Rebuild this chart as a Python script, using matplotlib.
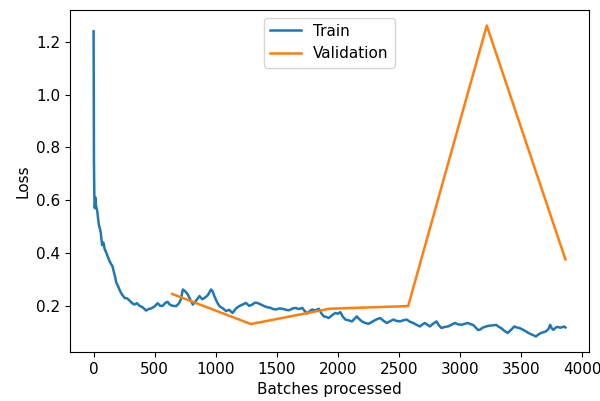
import matplotlib
matplotlib.use("Agg")
import matplotlib.pyplot as plt

plt.rcParams["font.size"] = 11

# train loss (batch, loss)
train_batches = [0, 3, 6, 10, 15, 20, 31, 42, 58, 70, 80, 91, 105, 118, 130, 145, 155, 167, 176, 186,
                 200, 213, 230, 254, 275, 295, 315, 335, 355, 376, 400, 430, 450, 471, 500, 525, 545, 566,
                 590, 607, 623, 647, 677, 700, 715, 731, 750, 772, 790, 813, 840, 867, 890, 908, 935, 962,
                 975, 989, 1010, 1030, 1060, 1085, 1110, 1138, 1166, 1193, 1220, 1248, 1275, 1301, 1320,
                 1342, 1370, 1397, 1420, 1451, 1470, 1492, 1520, 1546, 1575, 1600, 1630, 1655, 1680, 1709,
                 1730, 1749, 1770, 1790, 1815, 1844, 1865, 1885, 1905, 1926, 1955, 1980, 2000, 2021, 2040,
                 2062, 2090, 2116, 2135, 2156, 2175, 2197, 2225, 2252, 2275, 2306, 2325, 2347, 2375, 2401,
                 2430, 2455, 2480, 2510, 2535, 2564, 2590, 2618, 2645, 2673, 2695, 2713, 2735, 2754, 2780,
                 2808, 2830, 2849, 2875, 2903, 2930, 2958, 2985, 3012, 3040, 3066, 3090, 3107, 3121, 3147,
                 3161, 3190, 3215, 3243, 3270, 3297, 3320, 3337, 3365, 3392, 3420, 3446, 3465, 3487, 3515,
                 3541, 3570, 3595, 3622, 3645, 3663, 3685, 3704, 3725, 3739, 3752, 3766, 3785, 3799, 3825,
                 3853, 3864]
train_loss = [1.24, 0.75, 0.62, 0.57, 0.61, 0.58, 0.556, 0.51, 0.48, 0.43, 0.44, 0.415, 0.40, 0.384, 0.37,
              0.357, 0.35, 0.326, 0.31, 0.288, 0.275, 0.26, 0.245, 0.23, 0.228, 0.22, 0.21, 0.205, 0.21,
              0.20, 0.195, 0.182, 0.188, 0.19, 0.198, 0.21, 0.2, 0.20, 0.212, 0.215, 0.205, 0.20, 0.199,
              0.21, 0.225, 0.262, 0.255, 0.243, 0.225, 0.205, 0.22, 0.237, 0.225, 0.23, 0.24, 0.262, 0.255,
              0.237, 0.215, 0.199, 0.19, 0.18, 0.185, 0.173, 0.19, 0.199, 0.205, 0.211, 0.2, 0.205, 0.212,
              0.211, 0.205, 0.199, 0.195, 0.192, 0.188, 0.186, 0.19, 0.189, 0.185, 0.183, 0.19, 0.192,
              0.188, 0.192, 0.18, 0.171, 0.18, 0.186, 0.182, 0.189, 0.172, 0.16, 0.158, 0.154, 0.165,
              0.173, 0.17, 0.176, 0.16, 0.148, 0.145, 0.141, 0.15, 0.16, 0.15, 0.141, 0.135, 0.132, 0.138,
              0.146, 0.15, 0.154, 0.143, 0.135, 0.142, 0.148, 0.143, 0.141, 0.145, 0.148, 0.14, 0.135,
              0.128, 0.122, 0.13, 0.135, 0.128, 0.122, 0.132, 0.141, 0.125, 0.116, 0.12, 0.122, 0.128,
              0.135, 0.13, 0.128, 0.132, 0.135, 0.13, 0.128, 0.122, 0.109, 0.109, 0.118, 0.122, 0.125,
              0.126, 0.128, 0.12, 0.116, 0.105, 0.097, 0.11, 0.122, 0.118, 0.116, 0.11, 0.103, 0.095,
              0.09, 0.084, 0.092, 0.097, 0.1, 0.103, 0.112, 0.128, 0.115, 0.109, 0.118, 0.12, 0.117,
              0.122, 0.118]

# validation loss, once per epoch
val_batches = [644, 1288, 1932, 2576, 3220, 3864]
val_loss = [0.245, 0.131, 0.189, 0.199, 1.262, 0.376]

fig = plt.figure(figsize=(6, 4.01), dpi=100)
ax = fig.add_axes([70 / 600, 1 - 352 / 401, 519 / 600, 342 / 401])
ax.plot(train_batches, train_loss, label="Train", linewidth=1.8)
ax.plot(val_batches, val_loss, label="Validation", linewidth=1.8)
ax.set_xlabel("Batches processed")
ax.set_ylabel("Loss")
ax.legend(loc="upper center")

fig.savefig("out.png", dpi=100)
